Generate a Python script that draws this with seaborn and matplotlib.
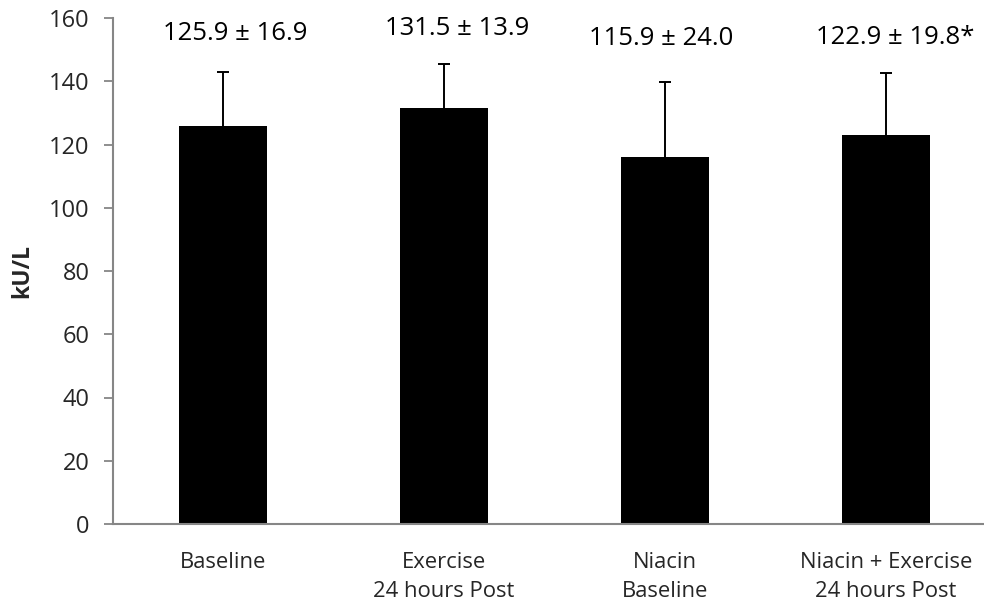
import matplotlib
matplotlib.use("Agg")
import matplotlib.pyplot as plt
import seaborn as sns
import numpy as np

categories = ["Baseline", "Exercise\n24 hours Post", "Niacin\nBaseline", "Niacin + Exercise\n24 hours Post"]
means = [125.9, 131.5, 115.9, 122.9]
sds = [16.9, 13.9, 24.0, 19.8]
annotations = ["125.9 ± 16.9", "131.5 ± 13.9", "115.9 ± 24.0", "122.9 ± 19.8*"]
yticks = [0, 20, 40, 60, 80, 100, 120, 140, 160]

# placement of the value labels (offsets in category units, heights in data units)
label_dx = [0.055, 0.06, -0.015, 0.04]
label_y = [155.2, 156.8, 153.5, 153.8]

sns.set_style("white")
plt.rcParams['font.family'] = ['Open Sans', 'DejaVu Sans']

W, H = 984, 603
fig = plt.figure(figsize=(W / 100, H / 100), dpi=100)
left, right = 112.5, 984
bottom, top = 603 - 524, 603 - 18
ax = fig.add_axes([left / W, bottom / H, (right - left) / W, (top - bottom) / H])

sns.barplot(x=categories, y=means, color="black", width=0.4, ax=ax,
            saturation=1, edgecolor="black", linewidth=0)
eb = ax.errorbar(np.arange(len(means)), means, yerr=[np.zeros(len(sds)), sds],
                 fmt="none", ecolor="black", elinewidth=1.4, capsize=4, capthick=1.4)
eb[1][0].set_visible(False)

for i, txt in enumerate(annotations):
    ax.text(i + label_dx[i], label_y[i], txt, ha="center", va="center",
            fontsize=18.5, color="black")

cat_w = 221.0
ax.set_xlim(-0.5, -0.5 + (right - left) / cat_w)
ax.set_ylim(0, 160)
ax.set_yticks(yticks)
ax.set_yticklabels([str(t) for t in yticks])

for s in ["top", "right"]:
    ax.spines[s].set_visible(False)
for s in ["left", "bottom"]:
    ax.spines[s].set_color("#868686")
    ax.spines[s].set_linewidth(1.5)

ax.tick_params(axis="y", which="major", direction="out", length=6.5, width=1.3,
               color="#868686", pad=10, left=True, labelsize=17)
ax.tick_params(axis="x", length=0, pad=20)
for lbl in ax.get_xticklabels():
    lbl.set_fontsize(15.8)
    lbl.set_linespacing(1.5)
    lbl.set_verticalalignment("top")

ax.set_xlabel("")
ax.set_ylabel("kU/L", fontsize=16.5, fontweight="bold")
ax.yaxis.set_label_coords(-(left - 34) / (right - left), 0.5)
ax.grid(False)

fig.savefig("out.png", dpi=100)
